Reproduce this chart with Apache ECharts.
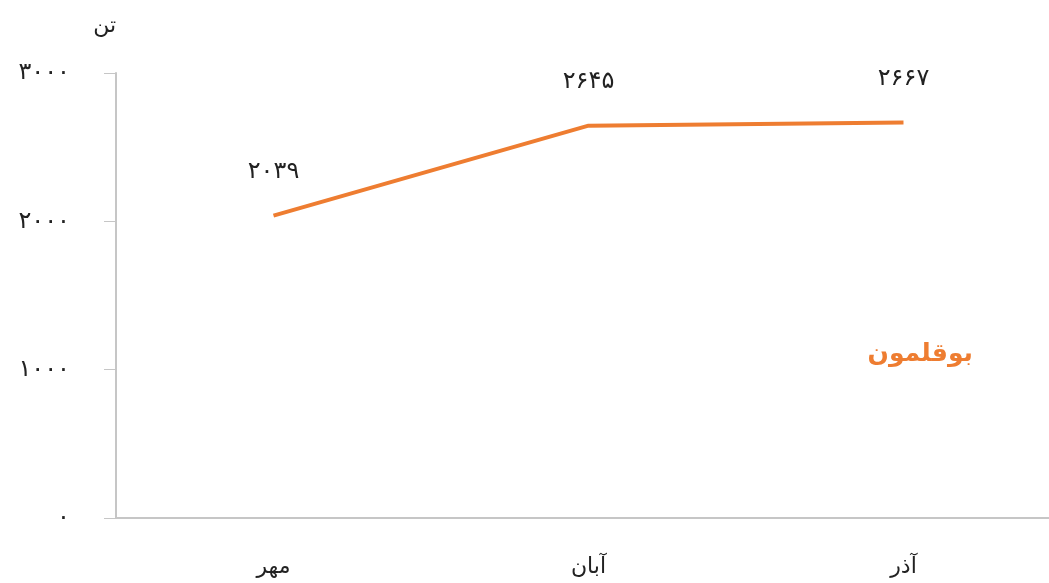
<!DOCTYPE html>
<html><head><meta charset="utf-8">
<script src="https://cdn.jsdelivr.net/npm/echarts@6/dist/echarts.min.js"></script>
<style>html,body{margin:0;padding:0;background:#fff}#c{width:1049px;height:583px}</style>
</head><body><div id="c"></div>
<script>
var categories = ['مهر', 'آبان', 'آذر'];
var values = [2039, 2645, 2667];
var seriesName = 'بوقلمون';
var unitName = 'تن';
var yTicks = [0, 1000, 2000, 3000];

function fa(n) {
  var d = '۰۱۲۳۴۵۶۷۸۹';
  return String(n).replace(/[0-9]/g, function (c) { return d[+c]; });
}
var font = '"DejaVu Sans", sans-serif';
var chart = echarts.init(document.getElementById('c'));
chart.setOption({
  animation: false,
  grid: { left: 116, top: 73, bottom: 65, width: 945, outerBoundsMode: 'none', containLabel: false },
  xAxis: {
    type: 'category', data: categories, boundaryGap: true,
    axisLine: { lineStyle: { color: '#c6c6c6', width: 2 } },
    axisTick: { alignWithLabel: true, length: 7, lineStyle: { color: '#c6c6c6', width: 1 } },
    axisLabel: { color: '#222', fontSize: 22, fontFamily: font, margin: 38 }
  },
  yAxis: {
    type: 'value', min: yTicks[0], max: yTicks[yTicks.length - 1], interval: 1000,
    name: unitName, nameLocation: 'end', nameGap: 36,
    nameTextStyle: { color: '#222', fontSize: 22, fontFamily: font, align: 'right' },
    axisLine: { show: true, lineStyle: { color: '#c6c6c6', width: 2 } },
    axisTick: { show: true, length: 12, lineStyle: { color: '#c6c6c6', width: 1 } },
    splitLine: { show: false },
    axisLabel: { color: '#222', fontSize: 24, fontFamily: font, margin: 46, formatter: function (v) { return fa(v); } }
  },
  series: [{
    name: seriesName, type: 'line', data: values,
    symbol: 'circle', symbolSize: 2, showSymbol: true,
    itemStyle: { color: 'rgba(0,0,0,0)' },
    lineStyle: { color: '#EE7D31', width: 4 },
    label: { show: true, position: 'top', distance: 31, color: '#222', fontSize: 24, fontFamily: font,
      formatter: function (p) { return fa(p.value); } }
  }],
  graphic: [{
    type: 'text', right: 76, top: 342,
    style: { text: seriesName, fill: '#EE7D31', font: 'bold 25px "DejaVu Sans", sans-serif' }
  }]
});
</script></body></html>
